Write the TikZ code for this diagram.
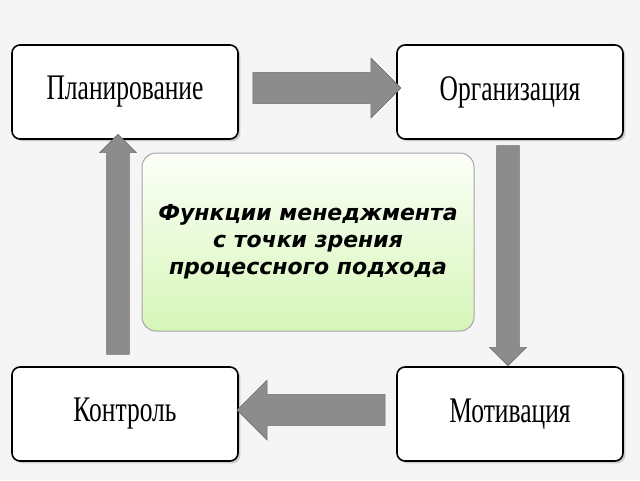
\documentclass[tikz,border=0pt]{standalone}
\usepackage{fontspec}
\setmainfont{Liberation Serif}
\newfontfamily\centerfont{DejaVu Sans}
\usetikzlibrary{positioning,shapes.arrows,shadows}
\definecolor{arrowgray}{RGB}{140,140,140}
\definecolor{greentop}{RGB}{252,255,248}
\definecolor{greenbot}{RGB}{214,246,184}
\begin{document}
\begin{tikzpicture}[x=1pt,y=-1pt,
  stagebox/.style={draw=black,line width=1.6pt,rounded corners=8pt,fill=white,
    minimum width=226pt,minimum height=94pt,drop shadow={opacity=0.35},
    font=\fontsize{30}{30}\selectfont},
  blockarrow/.style={single arrow,draw=arrowgray!80!black,fill=arrowgray,
    line width=0.6pt,minimum height=#1,minimum width=60pt,
    single arrow head extend=14pt,inner sep=15pt}]
  \useasboundingbox (0,0) rectangle (640,480);
  \fill[gray!8] (0,0) rectangle (640,480);
  % stages
  \node[stagebox] (plan) at (125,92) {\scalebox{0.85}[1.2]{Планирование}};
  \node[stagebox] (org)  at (510,92) {\scalebox{0.85}[1.2]{Организация}};
  \node[stagebox] (ctrl) at (125,414) {\scalebox{0.85}[1.2]{Контроль}};
  \node[stagebox] (motiv) at (510,414) {\scalebox{0.85}[1.2]{Мотивация}};
  % centre
  \node[draw=gray!70,line width=1pt,rounded corners=14pt,top color=greentop,
    bottom color=greenbot,minimum width=332pt,minimum height=178pt,
    align=center,font=\centerfont\bfseries\itshape\fontsize{22}{27}\selectfont]
    (center) at (308,242) {Функции менеджмента\\с точки зрения\\процессного подхода};
  % arrows
  \node[blockarrow=148pt] (a1) at (319,88) {};
  \node[blockarrow=220pt,shape border rotate=270,minimum width=36pt,inner sep=11pt,
    single arrow head extend=7pt] (a2) at (508,250) {};
  \node[blockarrow=148pt,shape border rotate=180] (a3) at (319,410) {};
  \node[blockarrow=220pt,shape border rotate=90,minimum width=36pt,inner sep=11pt,
    single arrow head extend=7pt] (a4) at (118,250) {};
\end{tikzpicture}
\end{document}
